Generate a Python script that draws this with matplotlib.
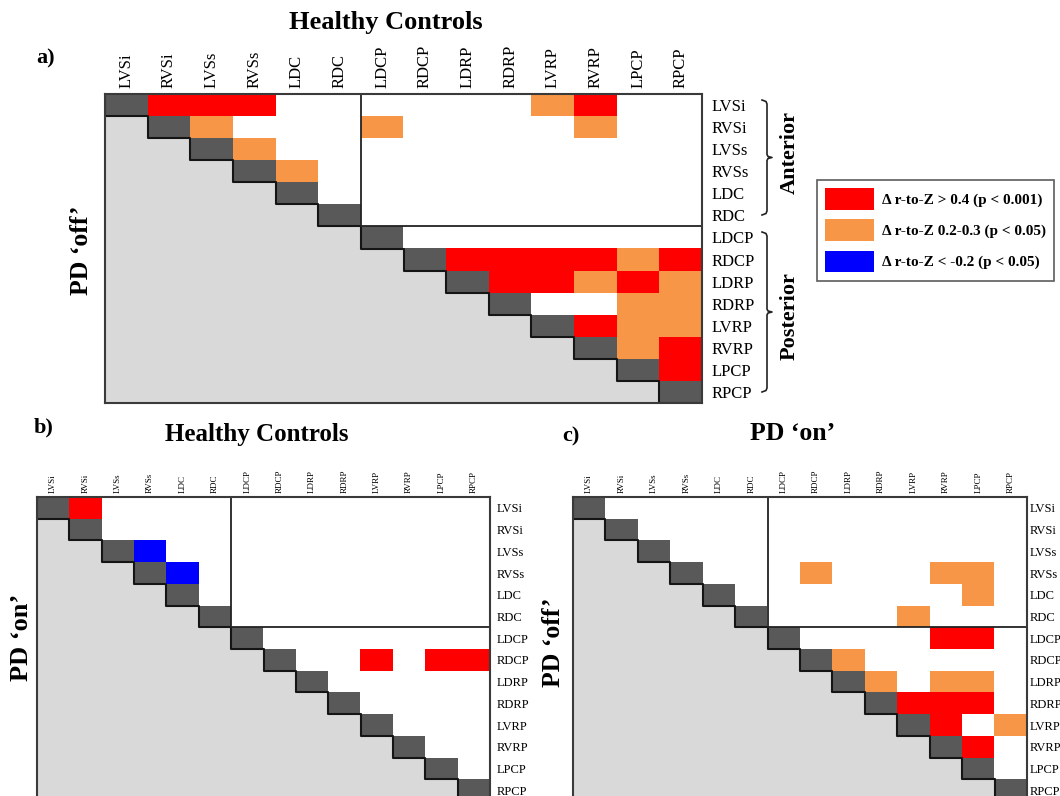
import numpy as np
import matplotlib.pyplot as plt
from matplotlib.colors import ListedColormap
from matplotlib.patches import Patch
from matplotlib.lines import Line2D

plt.rcParams['font.family'] = ['Liberation Serif', 'DejaVu Serif']

W, H = 1060, 796

regions = ["LVSi", "RVSi", "LVSs", "RVSs", "LDC", "RDC", "LDCP",
           "RDCP", "LDRP", "RDRP", "LVRP", "RVRP", "LPCP", "RPCP"]

# (row, column) pairs that differ significantly
# a) Healthy controls vs PD off
a_strong = [("LVSi", "RVSi"), ("LVSi", "LVSs"), ("LVSi", "RVSs"), ("LVSi", "RVRP"),
            ("RDCP", "LDRP"), ("RDCP", "RDRP"), ("RDCP", "LVRP"), ("RDCP", "RVRP"),
            ("RDCP", "RPCP"), ("LDRP", "RDRP"), ("LDRP", "LVRP"), ("LDRP", "LPCP"),
            ("LVRP", "RVRP"), ("RVRP", "RPCP"), ("LPCP", "RPCP")]
a_mid = [("LVSi", "LVRP"), ("RVSi", "LVSs"), ("RVSi", "LDCP"), ("RVSi", "RVRP"),
         ("LVSs", "RVSs"), ("RVSs", "LDC"), ("RDCP", "LPCP"), ("LDRP", "RVRP"),
         ("LDRP", "RPCP"), ("RDRP", "LPCP"), ("RDRP", "RPCP"), ("LVRP", "LPCP"),
         ("LVRP", "RPCP"), ("RVRP", "LPCP")]
# b) Healthy controls vs PD on
b_strong = [("LVSi", "RVSi"), ("RDCP", "LVRP"), ("RDCP", "LPCP"), ("RDCP", "RPCP")]
b_neg = [("LVSs", "RVSs"), ("RVSs", "LDC")]
# c) PD on vs PD off
c_strong = [("LDCP", "RVRP"), ("LDCP", "LPCP"), ("RDRP", "LVRP"), ("RDRP", "RVRP"),
            ("RDRP", "LPCP"), ("LVRP", "RVRP"), ("RVRP", "LPCP")]
c_mid = [("RVSs", "RDCP"), ("RVSs", "RVRP"), ("RVSs", "LPCP"), ("LDC", "LPCP"),
         ("RDC", "LVRP"), ("RDCP", "LDRP"), ("LDRP", "RDRP"), ("LDRP", "RVRP"),
         ("LDRP", "LPCP"), ("LVRP", "RPCP")]

legend_labels = ["Δ r-to-Z > 0.4 (p < 0.001)",
                 "Δ r-to-Z 0.2-0.3 (p < 0.05)",
                 "Δ r-to-Z < -0.2 (p < 0.05)"]

RED, ORANGE, BLUE = '#ff0000', '#f79646', '#0000ff'
cmap = ListedColormap([BLUE, '#ffffff', ORANGE, RED, '#595959', '#d9d9d9'])


def build(strong=(), mid=(), neg=()):
    n = len(regions)
    m = np.zeros((n, n))
    m[np.tril_indices(n, -1)] = 4
    m[np.diag_indices(n)] = 3
    for code, pairs in ((2, strong), (1, mid), (-1, neg)):
        for r, c in pairs:
            m[regions.index(r), regions.index(c)] = code
    return m


fig = plt.figure(figsize=(W / 100, H / 100), dpi=100)


def px_axes(l, t, r, b):
    return fig.add_axes([l / W, 1 - b / H, (r - l) / W, (b - t) / H])


def ftext(x, y, s, **kw):
    fig.text(x / W, 1 - y / H, s, ha='center', va='center', fontweight='bold', **kw)


def draw(ax, m, xfs, yfs, xpad, ypad):
    n = len(regions)
    ax.imshow(m, cmap=cmap, vmin=-1.5, vmax=4.5, aspect='auto', interpolation='nearest')
    e = np.arange(n + 1) - 0.5
    ax.plot(np.repeat(e, 2)[:-1], np.repeat(e, 2)[1:], color='#151515', lw=1.5)
    ax.plot([5.5, 5.5], [-0.5, 5.5], color='#222222', lw=1.3)
    ax.plot([5.5, 13.5], [5.5, 5.5], color='#222222', lw=1.3)
    ax.set_xlim(-0.5, n - 0.5)
    ax.set_ylim(n - 0.5, -0.5)
    ax.set_xticks(range(n), regions, rotation=90, fontsize=xfs)
    ax.set_yticks(range(n), regions, fontsize=yfs)
    ax.xaxis.tick_top()
    ax.yaxis.tick_right()
    ax.tick_params(axis='x', length=0, pad=xpad)
    ax.tick_params(axis='y', length=0, pad=ypad)
    for s in ax.spines.values():
        s.set_color('#3a3a3a')
        s.set_linewidth(1.5)


ax_a = px_axes(105, 94, 702, 403)
draw(ax_a, build(a_strong, a_mid), 12, 12, 4, 6.5)
ax_b = px_axes(37, 497, 490, 801)
draw(ax_b, build(b_strong, neg=b_neg), 6.5, 9, 3, 5)
ax_c = px_axes(573, 497, 1027, 801)
draw(ax_c, build(c_strong, c_mid), 6.5, 9, 3, 2)

ftext(386, 23, "Healthy Controls", fontsize=19)
ftext(46, 58, "a)", fontsize=16)
ftext(81, 250, "PD \u2018off\u2019", fontsize=18.5, rotation=90)
ftext(790, 153, "Anterior", fontsize=16, rotation=90)
ftext(790, 316, "Posterior", fontsize=16, rotation=90)

ftext(44, 427, "b)", fontsize=16)
ftext(257, 435, "Healthy Controls", fontsize=18)
ftext(22, 637, "PD \u2018on\u2019", fontsize=19, rotation=90)

ftext(571, 436, "c)", fontsize=16)
ftext(793, 434, "PD \u2018on\u2019", fontsize=18.5)
ftext(553, 642, "PD \u2018off\u2019", fontsize=18.5, rotation=90)


def brace(x0, y0, y1, w=10):
    ym = (y0 + y1) / 2
    xs = [x0, x0 + 4, x0 + 5, x0 + 5, x0 + 6, x0 + w, x0 + 6, x0 + 5, x0 + 5, x0 + 4, x0]
    ys = [y0, y0 + 1.5, y0 + 4, ym - 3, ym - 1, ym, ym + 1, ym + 3, y1 - 4, y1 - 1.5, y1]
    fig.add_artist(Line2D(np.array(xs) / W, 1 - np.array(ys) / H,
                          transform=fig.transFigure, color='#222222', lw=1.2))


brace(762, 100, 215)
brace(762, 232, 392)

handles = [Patch(facecolor=c, edgecolor='none') for c in (RED, ORANGE, BLUE)]
leg = fig.legend(handles, legend_labels, loc='upper left',
                 bbox_to_anchor=(817 / W, 1 - 180 / H), frameon=True, fancybox=False,
                 handlelength=3.2, handleheight=1.8, labelspacing=0.62,
                 handletextpad=0.5, borderpad=0.55, borderaxespad=0,
                 prop={'weight': 'bold', 'size': 11})
leg.get_frame().set_edgecolor('#333333')
leg.get_frame().set_linewidth(1.2)

fig.savefig('out.png', dpi=100)
